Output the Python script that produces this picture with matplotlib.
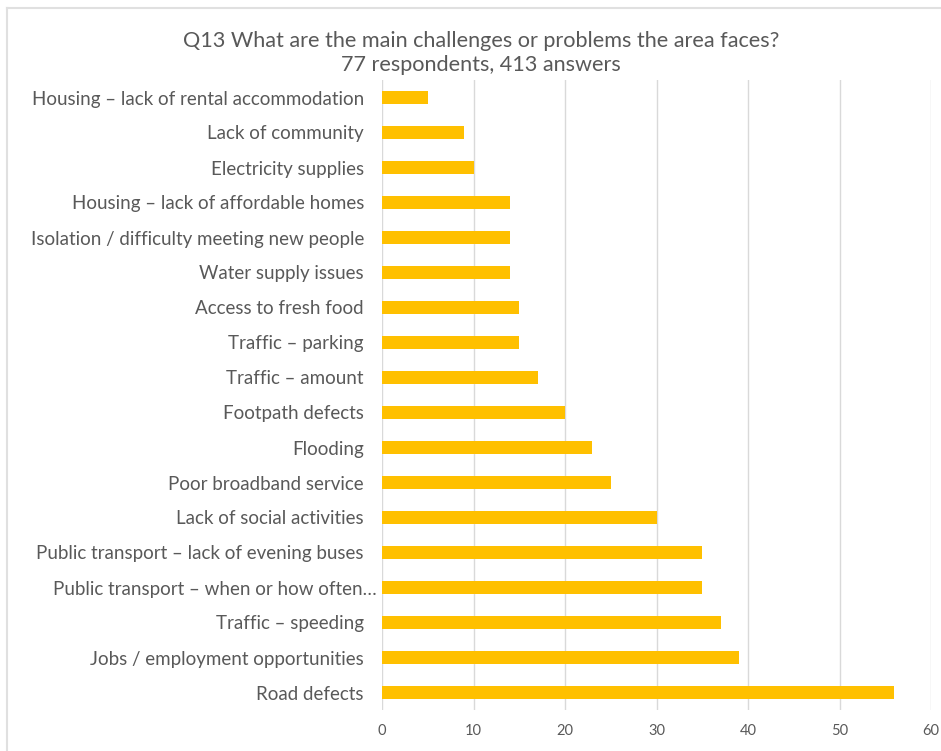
import matplotlib.pyplot as plt
import matplotlib.transforms as mtransforms
from matplotlib.lines import Line2D

# === Data ===
categories = [
    "Housing \u2013 lack of rental accommodation",
    "Lack of community",
    "Electricity supplies",
    "Housing \u2013 lack of affordable homes",
    "Isolation / difficulty meeting new people",
    "Water supply issues",
    "Access to fresh food",
    "Traffic \u2013 parking",
    "Traffic \u2013 amount",
    "Footpath defects",
    "Flooding",
    "Poor broadband service",
    "Lack of social activities",
    "Public transport \u2013 lack of evening buses",
    "Public transport \u2013 when or how often\u2026",
    "Traffic \u2013 speeding",
    "Jobs / employment opportunities",
    "Road defects",
]
counts = [5, 9, 10, 14, 14, 14, 15, 15, 17, 20, 23, 25, 30, 35, 35, 37, 39, 56]
x_ticks = [0, 10, 20, 30, 40, 50, 60]

title = "Q13 What are the main challenges or problems the area faces?\n77 respondents, 413 answers"

# === Style ===
plt.rcParams["font.family"] = ["Lato", "DejaVu Sans"]
text_grey = "#595959"
bar_colour = "#FFC000"
grid_grey = "#D9D9D9"

W, H = 941, 751
fig = plt.figure(figsize=(W / 100, H / 100), dpi=100)
ax = fig.add_axes([382 / W, 1 - 710 / H, (931 - 382) / W, (710 - 80) / H])

# first category at the top
ypos = list(range(len(categories)))
ax.barh(ypos, counts, height=0.37, color=bar_colour, zorder=3)
ax.set_ylim(len(categories) - 0.5, -0.5)
ax.set_yticks(ypos)
ax.set_yticklabels(categories, fontsize=13.5, color=text_grey)

ax.set_xlim(0, 60)
ax.set_xticks(x_ticks)
ax.set_xticklabels([str(t) for t in x_ticks], fontsize=10.5, color=text_grey)
ax.grid(axis="x", color=grid_grey, linewidth=1, zorder=0)
ax.tick_params(axis="both", length=0)
ax.tick_params(axis="y", pad=13)
ax.tick_params(axis="x", pad=10)
for s in ax.spines.values():
    s.set_visible(False)

# the truncated label sits closer to the axis, as in the original
for lab in ax.get_yticklabels():
    if lab.get_text().endswith("\u2026"):
        lab.set_transform(lab.get_transform()
                          + mtransforms.ScaledTranslation(13 / 100, 0, fig.dpi_scale_trans))

fig.text(481 / W, 1 - 53 / H, title, ha="center", va="center",
         fontsize=15.6, color=text_grey, linespacing=1.2)

# light frame (top and left edges of the chart area)
fig.add_artist(Line2D([7 / W, 1], [1 - 8 / H, 1 - 8 / H], color="#E0E0E0", linewidth=1.5))
fig.add_artist(Line2D([7 / W, 7 / W], [0, 1 - 8 / H], color="#E0E0E0", linewidth=1.5))

fig.savefig("out.png", dpi=100)
